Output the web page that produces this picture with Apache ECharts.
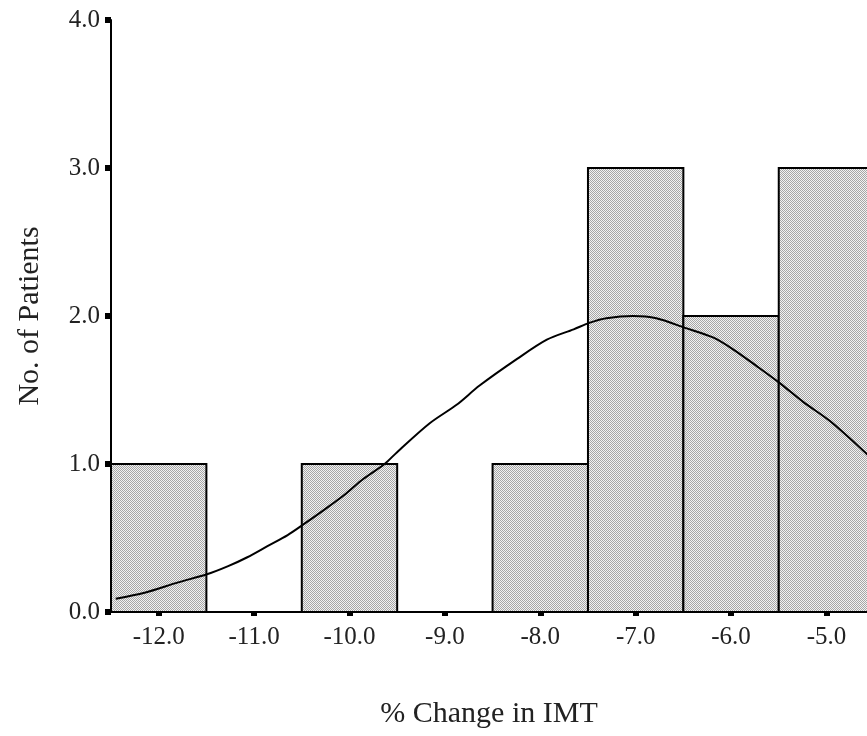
<!DOCTYPE html>
<html>
<head>
<meta charset="utf-8">
<script src="https://cdn.jsdelivr.net/npm/echarts@6/dist/echarts.min.js"></script>
<style>
  html, body { margin: 0; padding: 0; background: #fff; }
  #chart { width: 867px; height: 736px; }
</style>
</head>
<body>
<div id="chart"></div>
<script>
const binCenters = [-12, -10, -8, -7, -6, -5];
const patientCounts = [1, 1, 1, 3, 2, 3];
const xTickValues = [-12, -11, -10, -9, -8, -7, -6, -5];

// normal curve
const curveX = [-12.45, -12.148, -11.796, -11.494, -11.272, -11.071, -10.86, -10.648, -10.487, -10.266,
  -10.055, -9.853, -9.632, -9.501, -9.159, -8.877, -8.636, -8.243, -7.931, -7.65, -7.479, -7.307,
  -7.026, -6.784, -6.482, -6.19, -5.979, -5.728, -5.496, -5.245, -4.963, -4.58, -4.45];
const curveY = [0.09, 0.13, 0.2, 0.255, 0.31, 0.37, 0.445, 0.52, 0.59, 0.69,
  0.79, 0.9, 1.0, 1.08, 1.275, 1.4, 1.53, 1.71, 1.84, 1.91, 1.955, 1.985,
  2.0, 1.985, 1.92, 1.855, 1.775, 1.66, 1.55, 1.42, 1.29, 1.07, 0.99];

const FONT = '"Liberation Serif", "DejaVu Serif", serif';

function makeHatch() {
  const c = document.createElement('canvas');
  c.width = 2;
  c.height = 2;
  const ctx = c.getContext('2d');
  ctx.fillStyle = '#f2f2f2';
  ctx.fillRect(0, 0, 2, 2);
  ctx.fillStyle = '#a6a6a6';
  ctx.fillRect(0, 0, 1, 1);
  ctx.fillRect(1, 1, 1, 1);
  return c;
}
const hatch = { image: makeHatch(), repeat: 'repeat' };

const chart = echarts.init(document.getElementById('chart'), null, { renderer: 'canvas' });

// the original plot runs past the right edge of the picture (cut at about -4.575)
const baseAxis = {
  type: 'value',
  min: -12.5,
  max: -4.575,
  splitLine: { show: false },
};

chart.setOption({
  animation: false,
  backgroundColor: '#fff',
  grid: { left: 111, top: 20, bottom: 124, right: 0, containLabel: false },
  xAxis: [
    {
      ...baseAxis,
      name: '% Change in IMT',
      nameLocation: 'middle',
      nameGap: 87,
      nameTextStyle: { fontFamily: FONT, fontSize: 30, color: '#222' },
      axisLine: { show: true, onZero: false, lineStyle: { color: '#000', width: 2 } },
      axisTick: { show: false },
      axisLabel: {
        customValues: xTickValues,
        formatter: (v) => v.toFixed(1),
        fontFamily: FONT,
        fontSize: 25,
        color: '#222',
        margin: 13,
      },
    },
    {
      ...baseAxis,
      position: 'bottom',
      offset: 3,
      axisLine: { show: false },
      axisTick: {
        show: true,
        customValues: xTickValues,
        length: 4,
        lineStyle: { color: '#000', width: 6 },
      },
      axisLabel: { show: false },
    },
  ],
  yAxis: {
    type: 'value',
    min: 0,
    max: 4,
    interval: 1,
    name: 'No. of Patients',
    nameLocation: 'middle',
    nameGap: 66,
    nameTextStyle: { fontFamily: FONT, fontSize: 30, color: '#222' },
    splitLine: { show: false },
    axisLine: { show: true, lineStyle: { color: '#000', width: 2 } },
    axisTick: { show: true, length: 6, lineStyle: { color: '#000', width: 6 } },
    axisLabel: {
      formatter: (v) => v.toFixed(1),
      fontFamily: FONT,
      fontSize: 25,
      color: '#222',
      margin: 11,
    },
  },
  series: [
    {
      type: 'custom',
      xAxisIndex: 0,
      clip: true,
      data: binCenters.map((c, i) => [c, patientCounts[i]]),
      renderItem: (params, api) => {
        const center = api.value(0);
        const count = api.value(1);
        const topLeft = api.coord([center - 0.5, count]);
        const bottomRight = api.coord([center + 0.5, 0]);
        return {
          type: 'rect',
          shape: {
            x: topLeft[0],
            y: topLeft[1],
            width: bottomRight[0] - topLeft[0],
            height: bottomRight[1] - topLeft[1],
          },
          style: { fill: hatch, stroke: '#000', lineWidth: 2 },
        };
      },
      z: 2,
    },
    {
      type: 'line',
      xAxisIndex: 0,
      data: curveX.map((x, i) => [x, curveY[i]]),
      showSymbol: false,
      symbol: 'none',
      smooth: 0.3,
      lineStyle: { color: '#000', width: 2 },
      z: 3,
    },
  ],
});
</script>
</body>
</html>
